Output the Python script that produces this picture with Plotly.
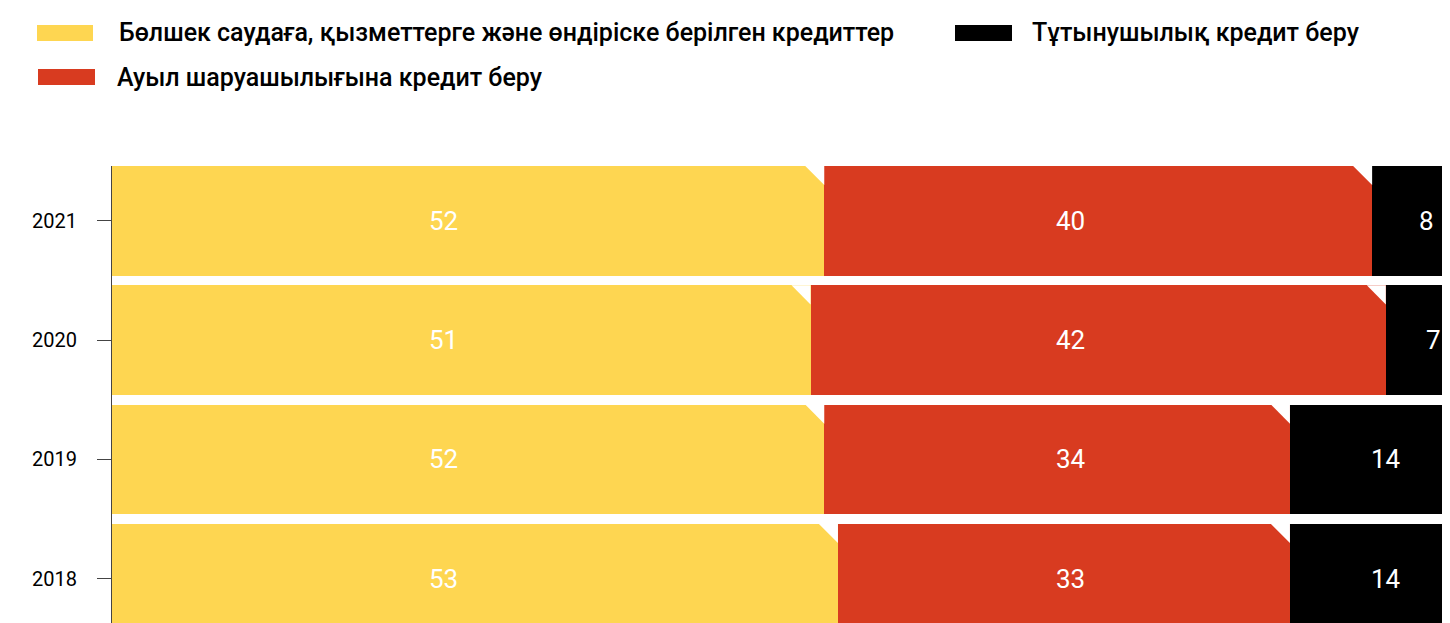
import plotly.graph_objects as go

# data (shares, %)
years = ['2018', '2019', '2020', '2021']
retail = [53, 52, 51, 52]
agro = [33, 34, 42, 40]
consumer = [14, 14, 7, 8]

series_names = [
    'Бөлшек саудаға, қызметтерге және өндіріске берілген кредиттер',
    'Ауыл шаруашылығына кредит беру',
    'Тұтынушылық кредит беру',
]
colors = ['#FED651', '#D83B20', '#000000']

# page body has an 8px margin, so the figure is drawn 8px in and down
OFF = 8
W, H = 1450 - 2 * OFF, 623 - OFF
L, T = 112 - OFF, 166 - OFF
plot_w, plot_h = W - L, H - T
FONT = 'Roboto'
BAR_W = 0.92
# value labels of the first two series sit in fixed columns
LABEL_COLS = [24.2, 70.0]
Y_UNIT = 119.3  # px per category


def px_x(px):
    return (px - OFF - L) / plot_w


def px_y(py):
    return (H - (py - OFF)) / plot_h


fig = go.Figure()
pos = list(range(len(years)))
all_vals = [retail, agro, consumer]
for name, vals, col in zip(series_names, all_vals, colors):
    fig.add_trace(go.Bar(
        y=pos, x=vals, orientation='h', name=name,
        marker=dict(color=col, line=dict(width=0)),
        width=BAR_W, showlegend=False,
    ))

# value labels
for i in pos:
    start = 0
    for k, vals in enumerate(all_vals):
        v = vals[i]
        x = LABEL_COLS[k] if k < len(LABEL_COLS) else start + v / 2
        fig.add_annotation(x=x, y=i, xref='x', yref='y', text=str(v),
                           showarrow=False, xanchor='center', yanchor='middle',
                           font=dict(size=26, color='white', family=FONT))
        start += v

# diagonal notch on the top-right corner of each segment
dx, dy = 1.39, 0.16
for i in pos:
    end = 0
    for vals in [retail, agro]:
        end += vals[i]
        top = i + BAR_W / 2
        fig.add_shape(type='path', xref='x', yref='y',
                      path=f'M {end - dx} {top} L {end} {top} L {end} {top - dy} Z',
                      fillcolor='white', line=dict(width=0), layer='above')

# custom legend
legend_items = [
    (series_names[0], colors[0], 37, 93, 25, 41, 117),
    (series_names[1], colors[1], 38, 95, 69, 85, 115),
    (series_names[2], colors[2], 955, 1012, 25, 41, 1030),
]
for name, col, x0, x1, y0, y1, tx in legend_items:
    fig.add_shape(type='rect', xref='paper', yref='paper',
                  x0=px_x(x0), x1=px_x(x1), y0=px_y(y1), y1=px_y(y0),
                  fillcolor=col, line=dict(width=0))
    fig.add_annotation(x=px_x(tx), y=px_y((y0 + y1) / 2), xref='paper', yref='paper',
                       text=name, showarrow=False, xanchor='left', yanchor='middle',
                       font=dict(size=25, color='black', family=FONT, weight=500))

y_top = 3 + BAR_W / 2
fig.update_layout(
    width=W, height=H,
    margin=dict(l=L, r=0, t=T, b=0),
    barmode='stack',
    plot_bgcolor='white', paper_bgcolor='white',
    font=dict(family=FONT, color='black'),
    xaxis=dict(range=[0, 97.1], showgrid=False, zeroline=False,
               showticklabels=False, ticks=''),
    yaxis=dict(range=[y_top - plot_h / Y_UNIT, y_top], tickvals=pos, ticktext=years,
               showgrid=False, zeroline=False, showline=True,
               linecolor='#444444', linewidth=1,
               ticks='outside', ticklen=14, tickcolor='#444444', tickwidth=1,
               ticklabelstandoff=16,
               tickfont=dict(size=20, color='black', family=FONT)),
)

fig.write_html('out.html')
